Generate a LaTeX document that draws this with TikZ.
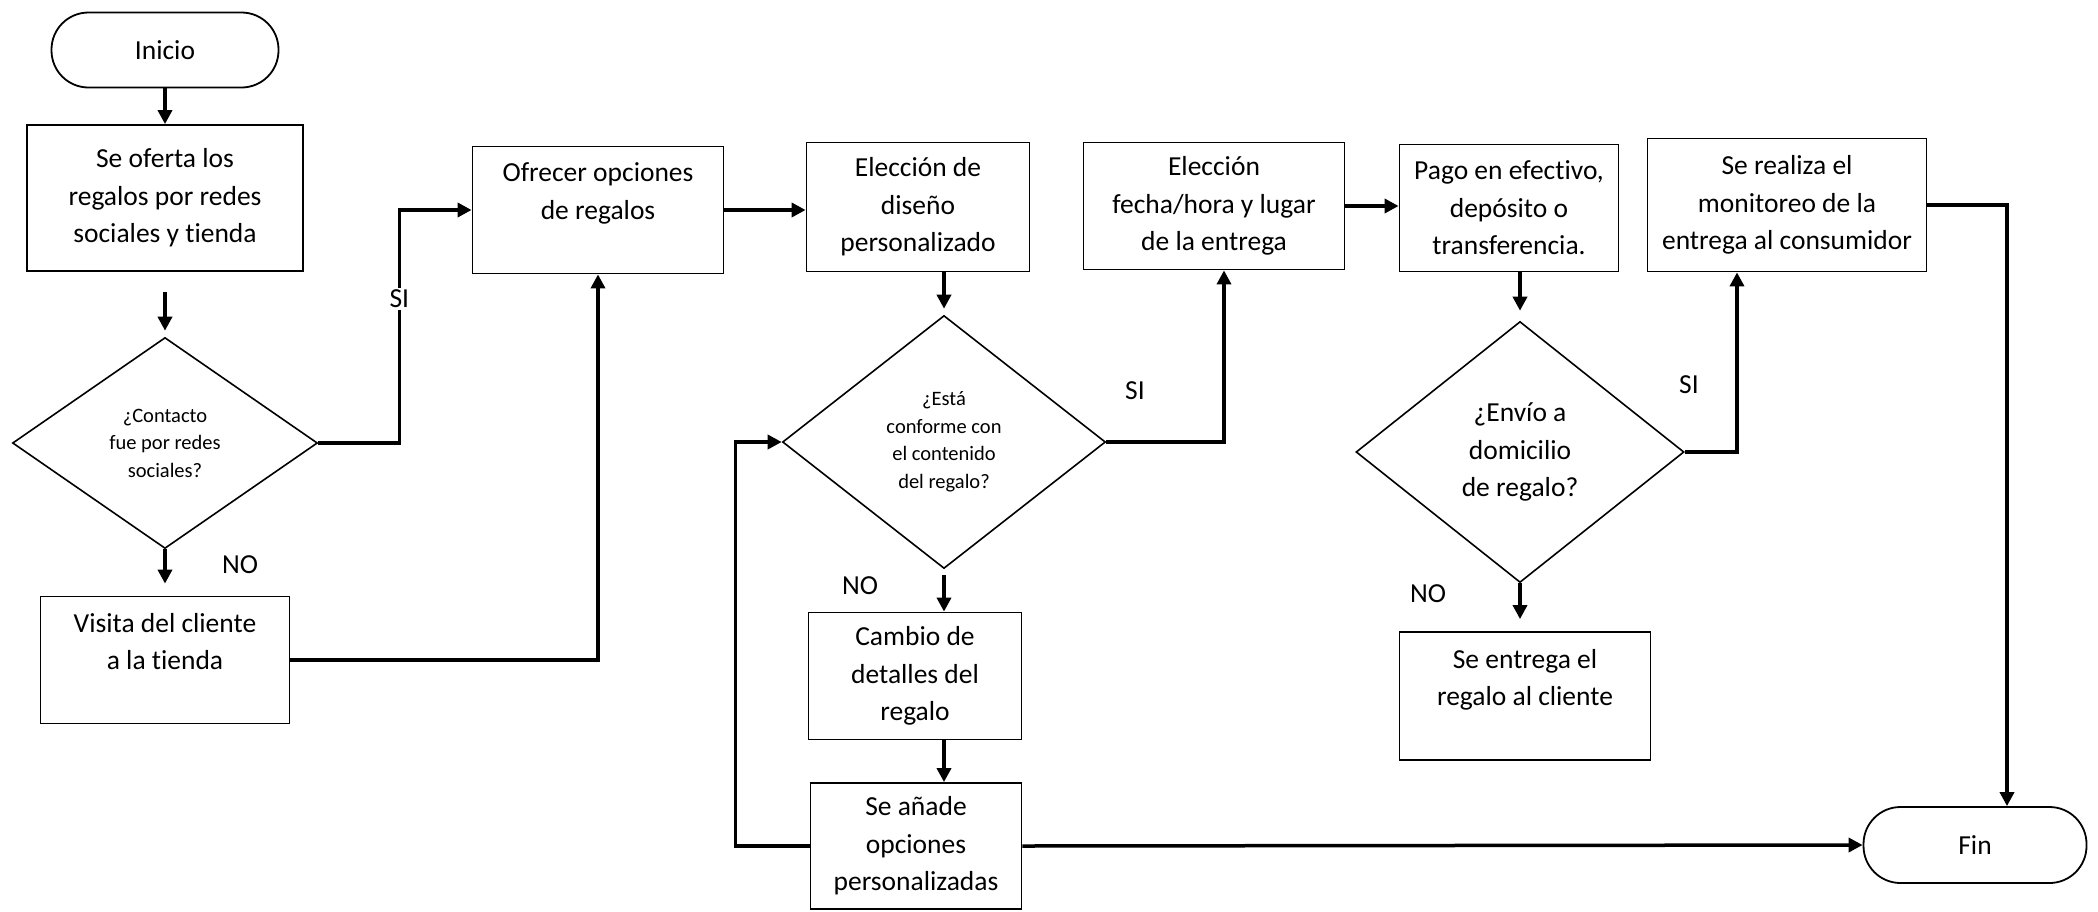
\documentclass[tikz,border=0pt]{standalone}
\usepackage{fontspec}
\setmainfont{Carlito}[Ligatures=NoCommon]
\usetikzlibrary{arrows.meta,shapes.geometric}

\begin{document}
\begin{tikzpicture}[x=1pt,y=-1pt,>={Triangle[length=14pt,width=14pt]}]
	\tikzset{caja/.style = {draw,line width=1.8pt,align=center,inner sep=0pt,font=\fontsize{27.5}{37.5}\selectfont}}
	\tikzset{rombo/.style = {draw,diamond,line width=1.6pt,align=center,inner sep=0pt,font=\fontsize{27.5}{37.5}\selectfont}}
	\tikzset{chico/.style = {font=\fontsize{20.5}{27.5}\selectfont}}
	\tikzset{extremo/.style = {caja,rounded corners=37pt}}
	\tikzset{linea/.style = {line width=3.5pt}}
	\tikzset{etiqueta/.style = {inner sep=2pt,font=\fontsize{27.5}{37.5}\selectfont}}
	\useasboundingbox (0,0) rectangle (2098,911);

	% nodes
	\node[extremo,minimum width=227pt,minimum height=75pt] (inicio) at (165,50) {Inicio};
	\node[caja,minimum width=276pt,minimum height=146pt] (oferta) at (165,198) {Se oferta los\\regalos por redes\\sociales y tienda};
	\node[rombo,chico,minimum width=305pt,minimum height=211pt] (contacto) at (165,443) {¿Contacto\\fue por redes\\sociales?};
	\node[caja,minimum width=249pt,minimum height=127pt] (visita) at (165,660) {Visita del cliente\\a la tienda\\\mbox{}};
	\node[caja,minimum width=251pt,minimum height=127pt] (ofrecer) at (598,210) {Ofrecer opciones\\de regalos\\\mbox{}};
	\node[caja,minimum width=223pt,minimum height=129pt] (diseno) at (918,207) {Elección de\\diseño\\personalizado};
	\node[rombo,chico,minimum width=323pt,minimum height=253pt] (conforme) at (944,442) {¿Está\\conforme con\\el contenido\\del regalo?};
	\node[caja,minimum width=213pt,minimum height=127pt] (cambio) at (915,676) {Cambio de\\detalles del\\regalo};
	\node[caja,minimum width=211pt,minimum height=126pt] (anade) at (916,846) {Se añade\\opciones\\personalizadas};
	\node[caja,minimum width=261pt,minimum height=127pt] (fecha) at (1214,206) {Elección\\fecha/hora y lugar\\de la entrega};
	\node[caja,minimum width=219pt,minimum height=127pt] (pago) at (1509,208) {Pago en efectivo,\\depósito o\\transferencia.};
	\node[rombo,minimum width=328pt,minimum height=261pt] (envio) at (1520,452) {¿Envío a\\domicilio\\de regalo?};
	\node[caja,minimum width=251pt,minimum height=128pt] (entrega) at (1525,696) {Se entrega el\\regalo al cliente\\\mbox{}};
	\node[caja,minimum width=279pt,minimum height=133pt] (monitoreo) at (1787,205) {Se realiza el\\monitoreo de la\\entrega al consumidor};
	\node[extremo,minimum width=223pt,minimum height=76pt] (fin) at (1975,845) {Fin};

	% labels
	\node[etiqueta] (no1) at (240,565) {NO};
	\node[etiqueta] (si2) at (1135,391) {SI};
	\node[etiqueta] (no2) at (860,586) {NO};
	\node[etiqueta] (si3) at (1689,385) {SI};
	\node[etiqueta] (no3) at (1428,594) {NO};

	% edges
	\draw[->,linea] (inicio) -- (oferta);
	\draw[->,linea,shorten <=20pt,shorten >=6pt] (oferta) -- (contacto);
	\draw[->,linea] (contacto.east) -- ++(81,0) |- node[pos=0.31,etiqueta,fill=white] (si1) {SI} (ofrecer.west);
	\draw[->,linea,shorten >=12pt] (contacto.south) -- (visita.north);
	\draw[->,linea] (visita.east) -| (ofrecer.south);
	\draw[->,linea] (ofrecer.east) -- (ofrecer.east -| diseno.west);
	\draw[->,linea,shorten >=6pt] (conforme.north |- diseno.south) -- (conforme.north);
	\draw[->,linea] (conforme.east) -| ([xshift=10pt]fecha.south);
	\draw[->,linea,shorten <=6pt] (conforme.south) -- (conforme.south |- cambio.north);
	\draw[->,linea] (conforme.south |- cambio.south) -- (conforme.south |- anade.north);
	\draw[->,linea] (anade.west) -- ++(-74,0) |- (conforme.west);
	\draw[->,linea] (anade.east) -- (fin.west);
	\draw[->,linea] (fecha.east) -- (fecha.east -| pago.west);
	\draw[->,linea,shorten >=10pt] (envio.north |- pago.south) -- (envio.north);
	\draw[->,linea] (envio.east) -| ([xshift=-50pt]monitoreo.south);
	\draw[->,linea,shorten >=12pt] (envio.south) -- (envio.south |- entrega.north);
	\draw[->,linea] (monitoreo.east) -| ([xshift=32pt]fin.north);
\end{tikzpicture}
\end{document}
